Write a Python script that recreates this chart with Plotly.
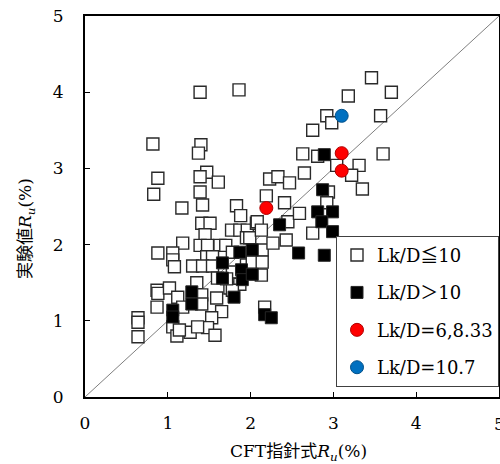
import plotly.graph_objects as go

# Lk/D <= 10 (open squares)
open_x = [1.39, 1.86, 0.82, 1.40, 1.37, 0.88, 0.83, 1.47, 1.39, 1.61, 1.39, 1.17, 1.42, 1.83, 1.88,
          1.41, 1.51, 1.45, 1.77, 1.87, 1.96, 1.95, 2.07, 1.18, 1.39, 1.48, 1.63, 1.70, 0.88, 1.06,
          1.06, 1.08, 1.47, 1.54, 1.30, 1.42, 1.54, 1.60, 1.75, 1.78, 1.78, 1.95, 1.87, 1.78, 1.71,
          0.87, 0.88, 0.87, 1.02, 1.12, 1.35, 1.41, 1.41, 1.59, 1.65, 1.53, 1.48, 1.27, 1.06, 1.36,
          1.57, 1.11, 1.14, 1.18, 0.64, 0.64, 0.64,
          1.99, 2.14, 2.02, 2.14, 2.13, 2.27, 2.43, 2.08, 2.13, 2.45, 2.59, 2.17, 2.19, 2.41, 2.23,
          2.33, 2.47, 2.65, 2.63, 2.81, 2.75, 2.92, 2.98, 3.18, 3.46, 3.70, 3.57, 3.60, 3.04, 3.31,
          3.22, 3.35, 2.94, 2.92, 2.75]
open_y = [4.00, 4.03, 3.32, 3.31, 3.20, 2.87, 2.66, 2.95, 2.89, 2.82, 2.69, 2.48, 2.52, 2.51, 2.38,
          2.28, 2.28, 2.13, 2.19, 2.19, 2.19, 2.09, 2.28, 2.02, 1.99, 1.99, 1.99, 1.99, 1.89, 1.89,
          1.80, 1.71, 1.84, 1.84, 1.72, 1.72, 1.72, 1.56, 1.43, 1.90, 1.64, 1.73, 1.48, 1.40, 1.55,
          1.40, 1.36, 1.18, 1.43, 1.31, 1.50, 1.34, 1.22, 1.30, 1.12, 1.04, 0.91, 0.85, 0.92, 0.92,
          0.81, 0.80, 0.88, 1.18, 1.04, 0.98, 0.79,
          2.09, 1.93, 1.77, 1.77, 1.60, 2.02, 2.06, 2.30, 2.19, 2.30, 2.41, 1.18, 2.64, 2.55, 2.86,
          2.89, 2.81, 2.94, 3.19, 3.16, 3.50, 3.69, 3.60, 3.95, 4.19, 4.00, 3.69, 3.19, 3.04, 3.04,
          2.91, 2.73, 2.69, 2.55, 2.15]

# Lk/D > 10 (filled squares)
fill_x = [1.06, 1.06, 1.29, 1.29, 1.66, 1.66, 1.87, 2.02, 1.89, 1.90, 2.02, 1.80, 2.35, 2.58,
          2.89, 2.87, 2.89, 2.81, 2.99, 2.86, 2.99, 2.17, 2.25]
fill_y = [1.14, 1.05, 1.38, 1.22, 1.76, 1.56, 1.90, 1.93, 1.67, 1.54, 1.61, 1.31, 2.26, 1.89,
          1.86, 2.72, 3.18, 2.43, 2.43, 2.30, 2.17, 1.08, 1.04]

# Lk/D = 6, 8.33 (red circles)
red_x = [2.19, 3.10, 3.10]
red_y = [2.48, 3.20, 2.97]

# Lk/D = 10.7 (blue circle)
blue_x = [3.10]
blue_y = [3.69]

line_x = [0, 5]
line_y = [0, 5]

x_ticks = [0, 1, 2, 3, 4, 5]
y_ticks = [0, 1, 2, 3, 4, 5]

FONT = "DejaVu Serif, Noto Sans CJK JP, serif"

fig = go.Figure()
fig.add_trace(go.Scatter(x=line_x, y=line_y, mode="lines", showlegend=False,
                         line=dict(color="#7f7f7f", width=1), hoverinfo="skip"))
fig.add_trace(go.Scatter(x=open_x, y=open_y, mode="markers", name="Lk/D≦10", legendgroup="a",
                         marker=dict(symbol="square", size=12, color="white",
                                     line=dict(color="#2a2a2a", width=1.4))))
fig.add_trace(go.Scatter(x=fill_x, y=fill_y, mode="markers", name="Lk/D＞10", legendgroup="b",
                         marker=dict(symbol="square", size=12, color="black",
                                     line=dict(color="#262626", width=1))))
fig.add_trace(go.Scatter(x=red_x, y=red_y, mode="markers", name="Lk/D=6,8.33", legendgroup="c",
                         marker=dict(symbol="circle", size=13, color="#ff0000",
                                     line=dict(color="#b00000", width=1))))
fig.add_trace(go.Scatter(x=blue_x, y=blue_y, mode="markers", name="Lk/D=10.7", legendgroup="d",
                         marker=dict(symbol="circle", size=13, color="#0070c0",
                                     line=dict(color="#00508a", width=1))))

axis_common = dict(range=[0, 5], ticks="inside", ticklen=5, tickwidth=1,
                   tickcolor="black", showgrid=False, zeroline=False, showline=True,
                   linewidth=2, linecolor="black", mirror=True, automargin=False,
                   tickmode="array",
                   tickfont=dict(family=FONT, size=17, color="black"))

fig.update_layout(
    width=500, height=464,
    margin=dict(l=85, r=1, t=16, b=67, autoexpand=False),
    paper_bgcolor="white", plot_bgcolor="white",
    font=dict(family=FONT, color="black"),
    xaxis=dict(**axis_common, tickvals=x_ticks, ticktext=[str(v) for v in x_ticks],
               ticklabelstandoff=10),
    yaxis=dict(**axis_common, tickvals=y_ticks, ticktext=[str(v) for v in y_ticks],
               ticklabelstandoff=16),
    showlegend=True,
    legend=dict(x=1.0, y=0.423, xanchor="right", yanchor="top",
                bgcolor="white", bordercolor="#404040", borderwidth=1,
                font=dict(family=FONT, size=18, color="black"),
                traceorder="grouped", tracegroupgap=11, itemwidth=30),
    annotations=[
        # last x tick label (clipped at the page edge, as in the reference)
        dict(text=str(x_ticks[-1]), xref="x", yref="paper", x=x_ticks[-1], y=-0.071,
             xanchor="center", yanchor="middle", showarrow=False,
             font=dict(family=FONT, size=17, color="black")),
        dict(text="CFT指針式<i>R</i><sub><i>u</i></sub>(%)", xref="paper", yref="paper",
             x=0.516, y=-0.145, xanchor="center", yanchor="middle", showarrow=False,
             font=dict(family=FONT, size=17, color="black")),
        dict(text="実験値<i>R</i><sub><i>u</i></sub>(%)", xref="paper", yref="paper",
             x=-0.14, y=0.441, xanchor="center", yanchor="middle", showarrow=False,
             textangle=-90, font=dict(family=FONT, size=17, color="black")),
    ],
)

fig.write_html("out.html")
